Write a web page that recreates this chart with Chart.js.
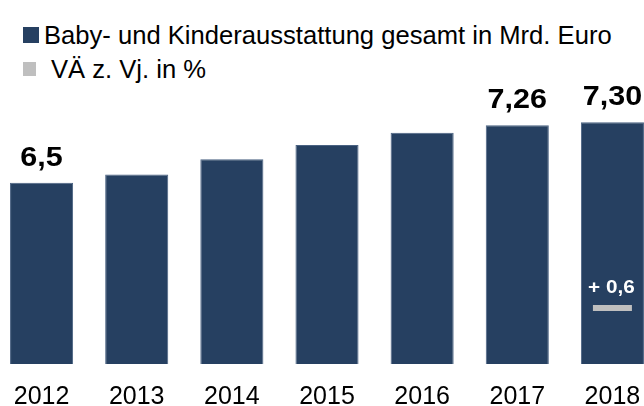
<!DOCTYPE html>
<html>
<head>
<meta charset="utf-8">
<script src="https://cdn.jsdelivr.net/npm/chart.js@4/dist/chart.umd.min.js"></script>
<style>
  html, body { margin: 0; padding: 0; background: #fff; overflow: hidden; width: 644px; height: 406px; }
  #wrap { position: absolute; left: -6px; top: 0; width: 666px; height: 430px; }
  .lg-row { position: absolute; left: 0; white-space: nowrap; font-family: "Liberation Sans", Arial, sans-serif; font-size: 25.6px; line-height: 26px; color: #000; }
  .lg-box { position: absolute; display: block; }
</style>
</head>
<body>
<div id="legend"></div>
<div id="wrap"><canvas id="chart"></canvas></div>
<script>
// Baby- und Kinderausstattung: Umsatz in Mrd. Euro, 2012-2018
var years = ['2012', '2013', '2014', '2015', '2016', '2017', '2018'];
var totals = [6.5, 6.61, 6.81, 7.0, 7.16, 7.26, 7.30];
var totalLabels = ['6,5', '', '', '', '', '7,26', '7,30'];
var changes = [null, null, null, null, null, null, 0.6];
var changeLabels = ['', '', '', '', '', '', '+ 0,6'];

var NAVY = '#264061';
var GREY = '#bfbfbf';
var FONT = '"Liberation Sans", Arial, sans-serif';

// Legende als HTML (zwei Zeilen wie im Original)
function buildLegend() {
  var items = [
    { text: 'Baby- und Kinderausstattung gesamt in Mrd. Euro', color: NAVY, top: 22, textLeft: 44, box: [23, 27, 16, 16] },
    { text: 'VÄ z. Vj. in %', color: GREY, top: 56, textLeft: 51, box: [23, 62, 13, 14] }
  ];
  var wrap = document.getElementById('legend');
  items.forEach(function (it) {
    var row = document.createElement('div');
    row.className = 'lg-row';
    row.style.top = it.top + 'px';
    row.style.left = it.textLeft + 'px';
    row.textContent = it.text;
    wrap.appendChild(row);
    var box = document.createElement('span');
    box.className = 'lg-box';
    box.style.left = it.box[0] + 'px';
    box.style.top = it.box[1] + 'px';
    box.style.width = it.box[2] + 'px';
    box.style.height = it.box[3] + 'px';
    box.style.background = it.color;
    wrap.appendChild(box);
  });
}

// Werte über den Balken + VÄ-Beschriftung
var labelPlugin = {
  id: 'valueLabels',
  afterDatasetsDraw: function (chart) {
    var ctx = chart.ctx;
    var bars = chart.getDatasetMeta(0).data;
    var pts = chart.getDatasetMeta(1).data;
    ctx.save();
    ctx.textAlign = 'center';
    ctx.textBaseline = 'alphabetic';

    ctx.fillStyle = '#000';
    ctx.font = 'bold 27px ' + FONT;
    bars.forEach(function (bar, i) {
      if (!totalLabels[i]) return;
      ctx.save();
      ctx.translate(bar.x, bar.y - 17);
      ctx.scale(1.13, 1);
      ctx.fillText(totalLabels[i], 0, 0);
      ctx.restore();
    });

    ctx.fillStyle = '#fff';
    ctx.font = 'bold 18px ' + FONT;
    pts.forEach(function (pt, i) {
      if (!changeLabels[i] || pt.skip) return;
      ctx.save();
      ctx.translate(pt.x - 1, pt.y - 15.5);
      ctx.scale(1.15, 1);
      ctx.fillText(changeLabels[i], 0, 0);
      ctx.restore();
    });
    ctx.restore();
  }
};

buildLegend();

new Chart(document.getElementById('chart').getContext('2d'), {
  data: {
    labels: years,
    datasets: [
      {
        type: 'bar',
        label: 'Baby- und Kinderausstattung gesamt in Mrd. Euro',
        data: totals,
        yAxisID: 'y',
        backgroundColor: NAVY,
        borderColor: '#4a6282',
        borderWidth: 1,
        categoryPercentage: 1,
        barPercentage: 0.663,
        order: 1
      },
      {
        type: 'line',
        label: 'VÄ z. Vj. in %',
        data: changes,
        yAxisID: 'y2',
        showLine: false,
        pointStyle: 'line',
        pointRadius: 19.5,
        pointBorderWidth: 6,
        pointBorderColor: GREY,
        pointBackgroundColor: GREY,
        order: 0
      }
    ]
  },
  options: {
    responsive: true,
    maintainAspectRatio: false,
    animation: false,
    layout: { autoPadding: false, padding: { top: 80, left: 0, right: 0, bottom: 0 } },
    plugins: {
      legend: { display: false },
      tooltip: { enabled: false }
    },
    scales: {
      x: {
        grid: { display: false, drawTicks: false },
        border: { display: false },
        ticks: {
          color: '#000',
          padding: 18,
          maxRotation: 0,
          font: { family: FONT, size: 25 }
        }
      },
      y: {
        display: false,
        min: 4.1,
        max: 7.86
      },
      y2: {
        display: false,
        min: 0,
        max: 3.048
      }
    }
  },
  plugins: [labelPlugin]
});
</script>
</body>
</html>
